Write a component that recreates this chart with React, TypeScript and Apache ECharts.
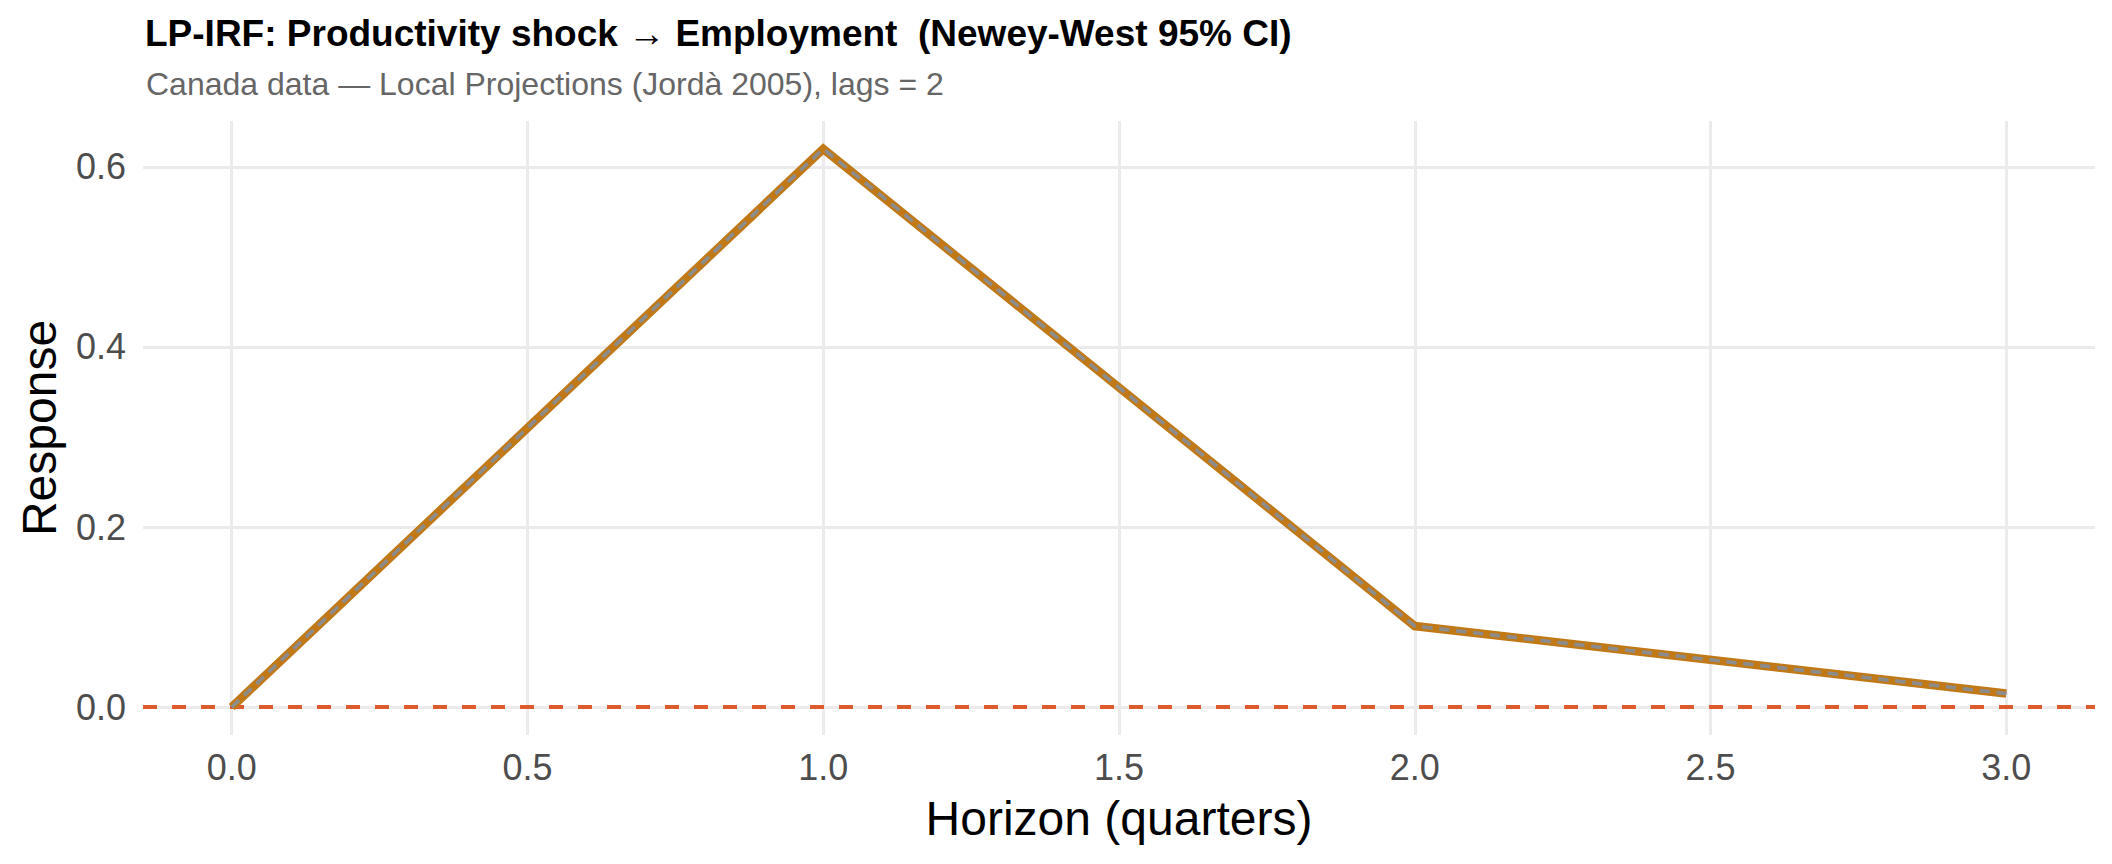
import React, { useEffect, useRef } from 'react';
import * as echarts from 'echarts';

// horizon (quarters) and LP impulse response
const horizons = [0, 1, 2, 3];
const irf = [0, 0.62, 0.09, 0.015];
// Newey-West 95% CI (collapses onto the estimate here)
const ciLower = [0, 0.62, 0.09, 0.015];
const ciUpper = [0, 0.62, 0.09, 0.015];

const xTicks = [0, 0.5, 1, 1.5, 2, 2.5, 3];
const yTicks = [0, 0.2, 0.4, 0.6];

const FONT = "'Liberation Sans', Arial, Helvetica, sans-serif";

const toPairs = (ys: number[]) => horizons.map((h, i) => [h, ys[i]]);

const App: React.FC = () => {
  const chartRef = useRef<HTMLDivElement>(null);

  useEffect(() => {
    if (!chartRef.current) return;
    const chart = echarts.init(chartRef.current, undefined, { renderer: 'svg' });

    const ciStyle = {
      color: '#8C8C8C',
      width: 3.3,
      type: [10, 7] as number[],
    };

    const option: echarts.EChartsOption = {
      animation: false,
      backgroundColor: '#ffffff',
      textStyle: { fontFamily: FONT },
      title: [
        {
          text: 'LP-IRF: Productivity shock \u2192 Employment  (Newey-West 95% CI)',
          left: 140,
          top: 10,
          textStyle: { fontSize: 37, fontWeight: 'bold', color: '#000000', fontFamily: FONT },
        },
        {
          text: 'Canada data \u2014 Local Projections (Jord\u00e0 2005), lags = 2',
          left: 141,
          top: 63,
          textStyle: { fontSize: 32, fontWeight: 'normal', color: '#666666', fontFamily: FONT },
        },
      ],
      grid: { left: 143, right: 17, top: 121, bottom: 129 },
      xAxis: {
        type: 'value',
        min: -0.15,
        max: 3.15,
        name: 'Horizon (quarters)',
        nameLocation: 'middle',
        nameGap: 59,
        nameTextStyle: { fontSize: 48, color: '#000000', fontFamily: FONT },
        axisLine: { show: false },
        axisTick: { show: false, customValues: xTicks },
        axisLabel: {
          customValues: xTicks,
          margin: 14,
          fontSize: 36,
          color: '#4D4D4D',
          fontFamily: FONT,
          formatter: (v: number) => v.toFixed(1),
        },
        splitLine: { show: true, lineStyle: { color: '#EBEBEB', width: 3 } },
      },
      yAxis: {
        type: 'value',
        min: -0.031,
        max: 0.651,
        name: 'Response',
        nameLocation: 'middle',
        nameGap: 80,
        nameTextStyle: { fontSize: 48, color: '#000000', fontFamily: FONT },
        axisLine: { show: false },
        axisTick: { show: false, customValues: yTicks },
        axisLabel: {
          customValues: yTicks,
          margin: 17,
          fontSize: 36,
          color: '#4D4D4D',
          fontFamily: FONT,
          formatter: (v: number) => v.toFixed(1),
        },
        splitLine: { show: true, lineStyle: { color: '#EBEBEB', width: 3 } },
      },
      series: [
        {
          name: 'IRF',
          type: 'line',
          data: toPairs(irf),
          symbol: 'none',
          lineStyle: { color: '#C07916', width: 8.5, join: 'miter', cap: 'butt' },
          z: 3,
          markLine: {
            silent: true,
            symbol: 'none',
            label: { show: false },
            lineStyle: { color: '#DE5B2E', width: 4, type: [14, 15] },
            data: [{ yAxis: 0 }],
            z: 2,
          },
        },
        {
          name: 'CI lower',
          type: 'line',
          data: toPairs(ciLower),
          symbol: 'none',
          lineStyle: ciStyle,
          z: 4,
        },
        {
          name: 'CI upper',
          type: 'line',
          data: toPairs(ciUpper),
          symbol: 'none',
          lineStyle: ciStyle,
          z: 4,
        },
      ],
    };

    chart.setOption(option);

    return () => {
      chart.dispose();
    };
  }, []);

  return (
    <div
      ref={chartRef}
      style={{ position: 'absolute', left: 0, top: 0, width: '2112px', height: '864px' }}
    />
  );
};

export default App;
